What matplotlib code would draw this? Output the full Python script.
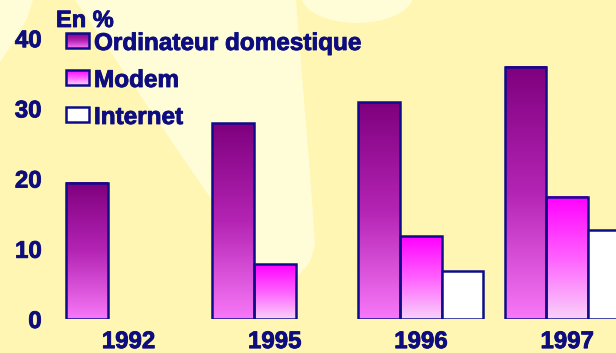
import numpy as np
import matplotlib
matplotlib.use("Agg")
import matplotlib.pyplot as plt
import matplotlib.patheffects as pe
from matplotlib.colors import LinearSegmentedColormap
from matplotlib.patches import Rectangle, Polygon, Ellipse

# ---- data -------------------------------------------------------------
years = ["1992", "1995", "1996", "1997"]
series = ["Ordinateur domestique", "Modem", "Internet"]
ordinateur = [19.4, 27.9, 30.9, 35.9]
modem = [None, 7.8, 11.8, 17.4]
internet = [None, None, 6.8, 12.7]
yticks = [0, 10, 20, 30, 40]
unit_label = "En %"

# ---- style ------------------------------------------------------------
W, H = 616, 353
BG = "#FFF6B3"
LIGHT = "#FFFDD8"
NAVY = "#0D0D80"
EDGE = "#0D0D8A"
FONT = "Liberation Sans"
HEAVY = [pe.withStroke(linewidth=0.6, foreground=NAVY)]

cmap_ord = LinearSegmentedColormap.from_list("ord", ["#F878F8", "#B424B4", "#7E007E"])
cmap_mod = LinearSegmentedColormap.from_list("mod", ["#F9D2F9", "#FF60FF", "#FF00FF"])
cmaps = [cmap_ord, cmap_mod, None]

fig = plt.figure(figsize=(W / 100, H / 100), dpi=100, facecolor=BG)

# background decoration (pixel coordinates, y downward)
bg = fig.add_axes([0, 0, 1, 1], zorder=0)
bg.set_xlim(0, W)
bg.set_ylim(H, 0)
bg.axis("off")
bg.add_patch(Polygon([(75, 0), (296, 0), (312, 200), (315, 245), (310, 262),
                      (298, 276), (282, 290), (272, 288)],
                     closed=True, facecolor=LIGHT, edgecolor="none"))
bg.add_patch(Polygon([(0, 0), (33, 0), (27, 18), (15, 40), (0, 62)],
                     closed=True, facecolor=LIGHT, edgecolor="none"))
bg.add_patch(Ellipse((357, -5), 112, 56, facecolor=LIGHT, edgecolor="none"))

# main chart
ax = fig.add_axes([50 / W, 34 / H, 566 / W, 280.8 / H], zorder=1)
ax.patch.set_visible(False)

x = np.arange(len(years))
width = 0.2852
gradient = np.linspace(0, 1, 256).reshape(-1, 1)

for k, (name, vals, cmap) in enumerate(zip(series, [ordinateur, modem, internet], cmaps)):
    idx = [i for i, v in enumerate(vals) if v is not None]
    heights = [vals[i] for i in idx]
    face = "white" if cmap is None else "none"
    bars = ax.bar(x[idx] + (k - 1) * width, heights, width, facecolor=face,
                  edgecolor=EDGE, linewidth=1.8, zorder=3, label=name)
    if cmap is not None:
        for b in bars:
            x0, w, h = b.get_x(), b.get_width(), b.get_height()
            ax.imshow(gradient, extent=[x0, x0 + w, 0, h], origin="lower",
                      cmap=cmap, aspect="auto", interpolation="bilinear", zorder=2)

ax.set_xlim(-(128.5 - 50) / 146.2, (W - 128.5) / 146.2)
ax.set_ylim(0, 40)
for s in ax.spines.values():
    s.set_visible(False)

ax.set_yticks(yticks)
ax.set_yticklabels([str(t) for t in yticks])
ax.set_xticks(x)
ax.set_xticklabels(years)
ax.tick_params(axis="y", length=0, pad=6)
ax.tick_params(axis="x", length=0, pad=8)
for lab in ax.get_xticklabels() + ax.get_yticklabels():
    lab.set_fontfamily(FONT)
    lab.set_fontweight("bold")
    lab.set_fontsize(17.3)
    lab.set_color(NAVY)
    lab.set_path_effects(HEAVY)

# legend and unit label (pixel coordinates)
ov = fig.add_axes([0, 0, 1, 1], zorder=2)
ov.set_xlim(0, W)
ov.set_ylim(H, 0)
ov.axis("off")
ov.patch.set_visible(False)

ov.text(56, 27, unit_label, fontfamily=FONT, fontweight="bold", fontsize=17,
        color=NAVY, ha="left", va="baseline", path_effects=HEAVY)

for k, (name, cmap) in enumerate(zip(series, cmaps)):
    top = 33 + 37 * k
    rect = Rectangle((66, top), 23, 15, facecolor="white" if cmap is None else "none",
                     edgecolor=EDGE, linewidth=1.8, zorder=3)
    ov.add_patch(rect)
    if cmap is not None:
        ov.imshow(gradient, extent=[66, 89, top + 15, top], origin="lower",
                  cmap=cmap, aspect="auto", interpolation="bilinear", zorder=2)
    ov.text(94, 50 + 37 * k, name, fontfamily=FONT, fontweight="bold",
            fontsize=17.5, color=NAVY, ha="left", va="baseline", path_effects=HEAVY)
ov.set_xlim(0, W)
ov.set_ylim(H, 0)

fig.savefig("out.png", dpi=100, facecolor=BG)
